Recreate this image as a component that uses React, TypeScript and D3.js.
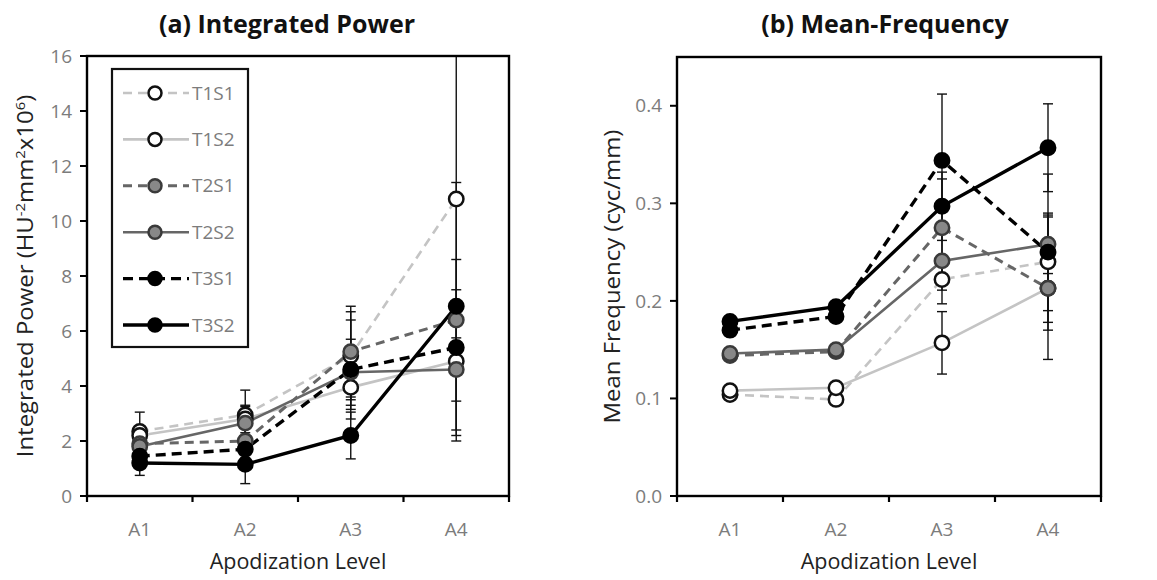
import React from "react";
import * as d3 from "d3";

const categories = ["A1", "A2", "A3", "A4"];
const seriesNames = ["T1S1", "T1S2", "T2S1", "T2S2", "T3S1", "T3S2"];

// (a) Integrated Power means and SDs, per series
const powerT1S1 = [2.35, 2.95, 5.1, 10.8];
const powerT1S2 = [2.2, 2.8, 3.95, 4.9];
const powerT2S1 = [1.9, 2.0, 5.25, 6.4];
const powerT2S2 = [1.8, 2.65, 4.5, 4.6];
const powerT3S1 = [1.45, 1.7, 4.6, 5.4];
const powerT3S2 = [1.2, 1.15, 2.2, 6.9];
const powerErrT1S1 = [0.7, 0.9, 1.6, 8.8];
const powerErrT1S2 = [0.3, 0.5, 0.8, 0.5];
const powerErrT2S1 = [0.5, 0.6, 1.65, 1.1];
const powerErrT2S2 = [0.4, 0.6, 1.2, 1.15];
const powerErrT3S1 = [0.3, 0.5, 1.8, 3.2];
const powerErrT3S2 = [0.45, 0.7, 0.85, 4.5];

// (b) Mean-Frequency means and SDs, per series
const freqT1S1 = [0.104, 0.099, 0.222, 0.24];
const freqT1S2 = [0.108, 0.111, 0.157, 0.213];
const freqT2S1 = [0.144, 0.148, 0.275, 0.213];
const freqT2S2 = [0.146, 0.15, 0.241, 0.258];
const freqT3S1 = [0.17, 0.184, 0.344, 0.25];
const freqT3S2 = [0.179, 0.194, 0.297, 0.357];
const freqErrT1S1 = [0.005, 0.005, 0.025, 0.05];
const freqErrT1S2 = [0.005, 0.006, 0.032, 0.035];
const freqErrT2S1 = [0.005, 0.006, 0.05, 0.073];
const freqErrT2S2 = [0.005, 0.006, 0.03, 0.03];
const freqErrT3S1 = [0.005, 0.006, 0.068, 0.08];
const freqErrT3S2 = [0.005, 0.006, 0.035, 0.045];

const powerTicks = [0, 2, 4, 6, 8, 10, 12, 14, 16];
const freqTicks = [0, 0.1, 0.2, 0.3, 0.4];

const powerValues = [powerT1S1, powerT1S2, powerT2S1, powerT2S2, powerT3S1, powerT3S2];
const powerErrors = [powerErrT1S1, powerErrT1S2, powerErrT2S1, powerErrT2S2, powerErrT3S1, powerErrT3S2];
const freqValues = [freqT1S1, freqT1S2, freqT2S1, freqT2S2, freqT3S1, freqT3S2];
const freqErrors = [freqErrT1S1, freqErrT1S2, freqErrT2S1, freqErrT2S2, freqErrT3S1, freqErrT3S2];

type Style = { line: string; width: number; dash?: string; fill: string; mstroke: string };
const styles: Style[] = [
  { line: "#c4c4c4", width: 2.6, dash: "9,6", fill: "#ffffff", mstroke: "#111" },
  { line: "#c4c4c4", width: 2.6, fill: "#ffffff", mstroke: "#111" },
  { line: "#666666", width: 3, dash: "9,6", fill: "#888888", mstroke: "#3a3a3a" },
  { line: "#666666", width: 2.6, fill: "#888888", mstroke: "#3a3a3a" },
  { line: "#000000", width: 3.4, dash: "10,6", fill: "#000000", mstroke: "#000" },
  { line: "#000000", width: 3.4, fill: "#000000", mstroke: "#000" },
];

const FONT = "'Open Sans', Lato, sans-serif";

type PanelProps = {
  id: string;
  title: string;
  yLabel: React.ReactNode;
  yLabelX: number;
  left: number;
  right: number;
  top: number;
  bottom: number;
  yMax: number;
  ticks: number[];
  fmt: (v: number) => string;
  values: number[][];
  errors: number[][];
  legend?: boolean;
  titleX: number;
};

function Panel(p: PanelProps) {
  const x = d3.scaleBand<string>().domain(categories).range([p.left, p.right]).padding(0);
  const y = d3.scaleLinear().domain([0, p.yMax]).range([p.bottom, p.top]);
  const cx = (c: string) => (x(c) as number) + x.bandwidth() / 2;
  const line = d3
    .line<number>()
    .x((_, i) => cx(categories[i]))
    .y((v) => y(v));
  const boundaries = categories.map((c) => x(c) as number).concat([p.right]);
  const midX = (p.left + p.right) / 2;
  const midY = (p.top + p.bottom) / 2;
  const clipId = "clip-" + p.id;
  return (
    <g>
      <defs>
        <clipPath id={clipId}>
          <rect x={p.left} y={p.top} width={p.right - p.left} height={p.bottom - p.top} />
        </clipPath>
      </defs>
      <text x={p.titleX} y={33} textAnchor="middle" fontFamily={FONT} fontWeight="bold" fontSize={25} fill="#111">
        {p.title}
      </text>
      {/* y ticks */}
      {p.ticks.map((t) => (
        <g key={t}>
          <line x1={p.left - 7} x2={p.left} y1={y(t)} y2={y(t)} stroke="#000" strokeWidth={2} />
          <text x={p.left - 15} y={y(t)} dy="0.35em" textAnchor="end" fontFamily={FONT} fontSize={19} fill="#7c7c7c">
            {p.fmt(t)}
          </text>
        </g>
      ))}
      {/* x ticks */}
      {boundaries.map((b, i) => (
        <line key={i} x1={b} x2={b} y1={p.bottom} y2={p.bottom + 6} stroke="#000" strokeWidth={2.2} />
      ))}
      {categories.map((c) => (
        <text key={c} x={cx(c)} y={529} dy="0.35em" textAnchor="middle" fontFamily={FONT} fontSize={19} fill="#7c7c7c">
          {c}
        </text>
      ))}
      <text x={midX} y={569} textAnchor="middle" fontFamily={FONT} fontSize={21.5} fill="#222">
        Apodization Level
      </text>
      <text
        transform={`translate(${p.yLabelX},${midY}) rotate(-90) scale(1.14,1)`}
        textAnchor="middle"
        dy="0.35em"
        fontFamily={FONT}
        fontSize={21}
        fill="#222"
      >
        {p.yLabel}
      </text>
      {/* error bars */}
      <g clipPath={`url(#${clipId})`}>
        {p.values.map((vals, s) =>
          vals.map((v, i) => {
            const e = p.errors[s][i];
            const xx = cx(categories[i]);
            return (
              <g key={s + "-" + i} stroke="#111" strokeWidth={1.4}>
                <line x1={xx} x2={xx} y1={y(v - e)} y2={y(v + e)} />
                <line x1={xx - 5} x2={xx + 5} y1={y(v - e)} y2={y(v - e)} />
                <line x1={xx - 5} x2={xx + 5} y1={y(v + e)} y2={y(v + e)} />
              </g>
            );
          })
        )}
      </g>
      {/* lines */}
      {p.values.map((vals, s) => (
        <path
          key={"l" + s}
          d={line(vals) as string}
          fill="none"
          stroke={styles[s].line}
          strokeWidth={styles[s].width}
          strokeDasharray={styles[s].dash}
        />
      ))}
      {/* markers */}
      {p.values.map((vals, s) =>
        vals.map((v, i) => (
          <circle
            key={"m" + s + "-" + i}
            cx={cx(categories[i])}
            cy={y(v)}
            r={7.2}
            fill={styles[s].fill}
            stroke={styles[s].mstroke}
            strokeWidth={2.5}
          />
        ))
      )}
      {/* frame */}
      <rect
        x={p.left}
        y={p.top}
        width={p.right - p.left}
        height={p.bottom - p.top}
        fill="none"
        stroke="#000"
        strokeWidth={2.4}
      />
      {p.legend && (
        <g>
          <rect x={112} y={69} width={136} height={278} fill="#fff" stroke="#111" strokeWidth={2.2} />
          {seriesNames.map((n, s) => {
            const yy = 93 + s * 46.4;
            return (
              <g key={n}>
                <line
                  x1={123}
                  x2={189}
                  y1={yy}
                  y2={yy}
                  stroke={styles[s].line}
                  strokeWidth={styles[s].width}
                  strokeDasharray={styles[s].dash}
                />
                <circle cx={155} cy={yy} r={6.5} fill={styles[s].fill} stroke={styles[s].mstroke} strokeWidth={2.5} />
                <text x={192} y={yy} dy="0.35em" fontFamily={FONT} fontSize={19} fill="#7c7c7c">
                  {n}
                </text>
              </g>
            );
          })}
        </g>
      )}
    </g>
  );
}

export default function App() {
  return (
    <svg
      width={1157}
      height={580}
      style={{ position: "absolute", left: 0, top: 0, background: "#fff" }}
    >
      <rect width={1157} height={580} fill="#fff" />
      <Panel
        id="a"
        title="(a) Integrated Power"
        titleX={287}
        yLabel={
          <>
            Integrated  Power (HU
            <tspan baselineShift="super" fontSize={13}>-2</tspan>
            mm
            <tspan baselineShift="super" fontSize={13}>2</tspan>
            x10
            <tspan baselineShift="super" fontSize={13}>6</tspan>)
          </>
        }
        yLabelX={26}
        left={87}
        right={509}
        top={56}
        bottom={496}
        yMax={16}
        ticks={powerTicks}
        fmt={(v) => String(v)}
        values={powerValues}
        errors={powerErrors}
        legend
      />
      <Panel
        id="b"
        title="(b) Mean-Frequency"
        titleX={885}
        yLabel="Mean Frequency (cyc/mm)"
        yLabelX={613}
        left={677}
        right={1101}
        top={57}
        bottom={496}
        yMax={0.45}
        ticks={freqTicks}
        fmt={(v) => v.toFixed(1)}
        values={freqValues}
        errors={freqErrors}
      />
    </svg>
  );
}
